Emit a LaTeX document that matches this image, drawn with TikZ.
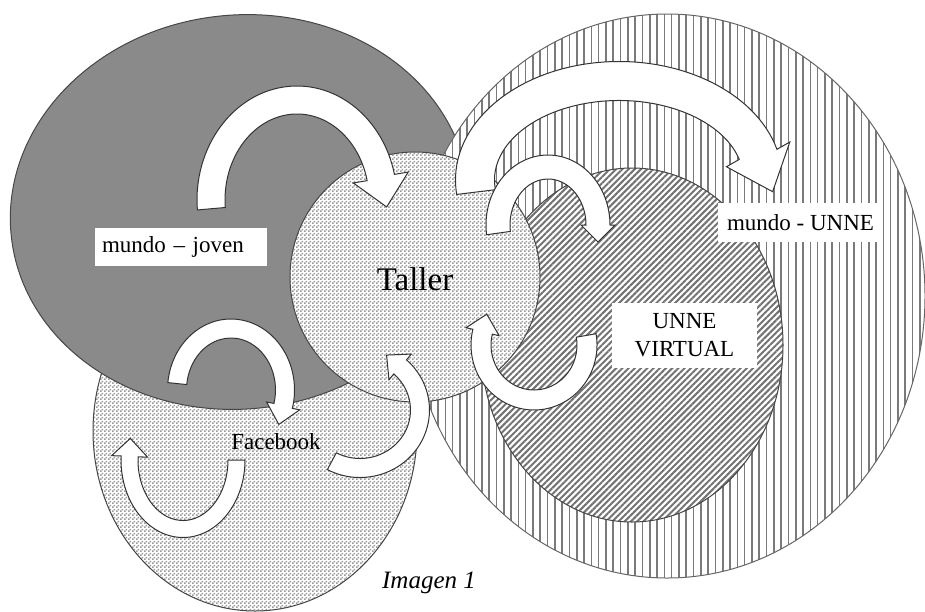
\documentclass[tikz,border=0pt]{standalone}
\usepackage{fontspec}
\setmainfont{Liberation Serif}
\usetikzlibrary{patterns.meta}
\definecolor{darkfill}{RGB}{138,138,138}
\definecolor{edgecol}{RGB}{70,70,70}
\tikzdeclarepattern{
  name=checker,
  bounding box={(0pt,0pt) and (4pt,4pt)},
  tile size={(4pt,4pt)},
  code={\fill (0pt,0pt) rectangle (2pt,2pt); \fill (2pt,2pt) rectangle (4pt,4pt);}
}
% curved block arrow: cx, cy, rx, ry, half width, start angle, end angle, head half width, head length
\newcommand\bentarrow[9]{%
  \pgfmathsetmacro\baRxo{#3+#5}%
  \pgfmathsetmacro\baRyo{#4+#5}%
  \pgfmathsetmacro\baRxi{#3-#5}%
  \pgfmathsetmacro\baRyi{#4-#5}%
  \pgfmathsetmacro\baSx{#1+\baRxo*cos(#6)}%
  \pgfmathsetmacro\baSy{#2+\baRyo*sin(#6)}%
  \pgfmathsetmacro\baIx{#1+\baRxi*cos(#7)}%
  \pgfmathsetmacro\baIy{#2+\baRyi*sin(#7)}%
  \pgfmathsetmacro\baEx{#1+#3*cos(#7)}%
  \pgfmathsetmacro\baEy{#2+#4*sin(#7)}%
  \pgfmathsetmacro\baNx{#4*cos(#7)}%
  \pgfmathsetmacro\baNy{#3*sin(#7)}%
  \pgfmathsetmacro\baNl{veclen(\baNx,\baNy)}%
  \pgfmathsetmacro\baNx{\baNx/\baNl}%
  \pgfmathsetmacro\baNy{\baNy/\baNl}%
  \pgfmathsetmacro\baSg{(#7>#6)?1:-1}%
  \pgfmathsetmacro\baTx{\baEx-\baSg*#9*\baNy}%
  \pgfmathsetmacro\baTy{\baEy+\baSg*#9*\baNx}%
  \pgfmathsetmacro\baBox{\baEx+#8*\baNx}%
  \pgfmathsetmacro\baBoy{\baEy+#8*\baNy}%
  \pgfmathsetmacro\baBix{\baEx-#8*\baNx}%
  \pgfmathsetmacro\baBiy{\baEy-#8*\baNy}%
  \filldraw[curvedarrow] (\baSx,\baSy)
    arc[start angle=#6, end angle=#7, x radius=\baRxo, y radius=\baRyo]
    -- (\baBox,\baBoy) -- (\baTx,\baTy) -- (\baBix,\baBiy) -- (\baIx,\baIy)
    arc[start angle=#7, end angle=#6, x radius=\baRxi, y radius=\baRyi] -- cycle;
}
\begin{document}
\begin{tikzpicture}[x=1pt,y=-1pt,
  outl/.style={draw=edgecol, line width=1pt},
  curvedarrow/.style={fill=white, draw=black!80, line width=1pt, line join=miter},
  lbox/.style={fill=white, inner xsep=0pt, inner ysep=0pt, font=\fontsize{23}{28}\selectfont},
  plain/.style={inner sep=0pt, font=\fontsize{23}{28}\selectfont},
  checkfill/.style={preaction={fill=white}, pattern=checker, pattern color=black!40},
  vstripes/.style={preaction={fill=white}, pattern={Lines[angle=90, distance=7.3pt, line width=1.6pt]}, pattern color=black!52},
  dstripes/.style={preaction={fill=white}, pattern={Lines[angle=45, distance=4.4pt, line width=2pt]}, pattern color=black!55}
]
\useasboundingbox (0,0) rectangle (925,611);

% Facebook area
\draw[outl, checkfill] (255,431) ellipse [x radius=162, y radius=180];

% mundo - joven area
\draw[outl, fill=darkfill, rotate around={6:(240,212)}] (240,212) ellipse [x radius=230, y radius=197];

% mundo - UNNE area
\draw[outl, draw=black!60, vstripes] (667,296) ellipse [x radius=258, y radius=282];

% UNNE virtual area
\draw[outl, dstripes] (632,345) ellipse [x radius=151, y radius=177];

% Taller
\draw[outl, checkfill] (415,277) circle [radius=125];

% arrows
\bentarrow{297}{200}{86}{100}{14}{175}{347}{28}{30}
\bentarrow{619}{180}{144}{99}{19.5}{173}{345}{34}{40}
\bentarrow{548}{225}{50}{58}{12}{172}{360}{17}{17}
\bentarrow{534}{345}{53}{55}{10}{-10}{194}{17}{18}
\bentarrow{360}{410}{60}{58}{9.5}{118}{-48}{17}{18}
\bentarrow{231}{390}{54}{61.5}{9.5}{186}{375}{17}{19}
\bentarrow{183}{460}{53.5}{69}{8.5}{0}{183}{18}{18}

% labels
\node[lbox, minimum height=38pt, text width=158pt, inner xsep=7pt, align=left] (mj) at (181,247) {mundo – joven};
\node[lbox, minimum width=165pt, minimum height=39pt] (mu) at (800.5,222.5) {mundo - UNNE};
\node[lbox, minimum width=145pt, minimum height=65pt, align=center] (uv) at (684.5,335.5) {UNNE\\VIRTUAL};
\node[plain, font=\fontsize{33}{38}\selectfont] (taller) at (415,279) {Taller};
\node[plain] (fb) at (276,442) {Facebook};
\node[plain, font=\fontsize{25}{30}\selectfont\itshape] (img) at (429,583) {Imagen 1};
\end{tikzpicture}
\end{document}
